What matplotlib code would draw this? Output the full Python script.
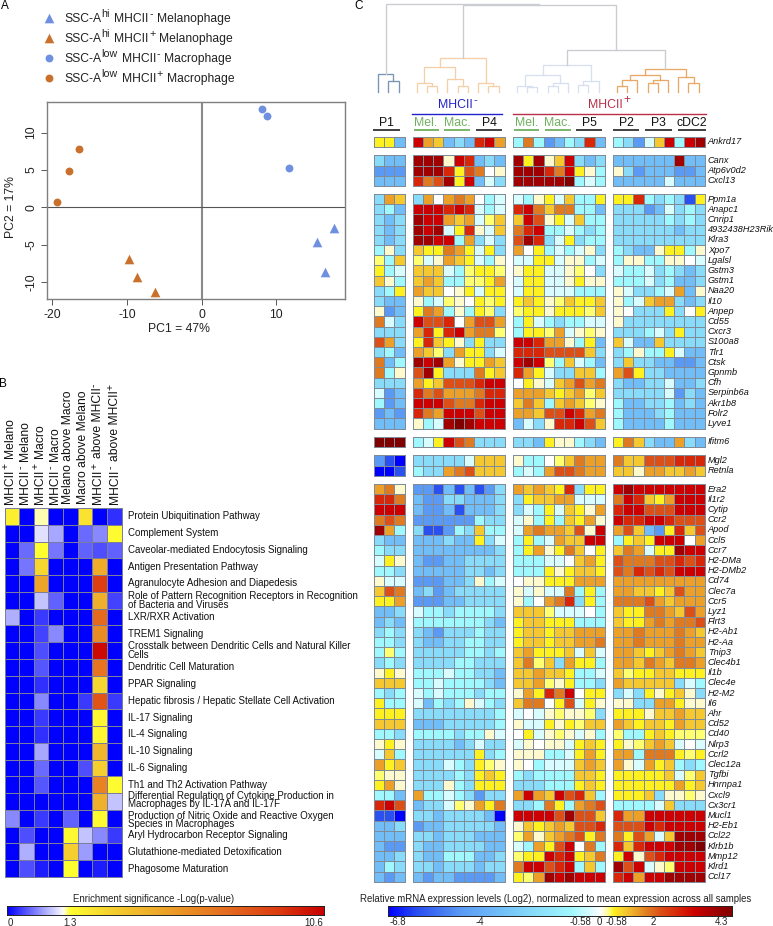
import numpy as np
import matplotlib
matplotlib.use("Agg")
import matplotlib.pyplot as plt
from matplotlib.colors import LinearSegmentedColormap

plt.rcParams['font.family'] = ['Liberation Sans', 'DejaVu Sans']
plt.rcParams['axes.unicode_minus'] = False

W, H = 773, 926

# ---------- Panel A data ----------
PC_LABELS = [[('SSC-A', 0), ('hi', 1), (' MHCII', 0), ('-', 1), (' Melanophage', 0)],
             [('SSC-A', 0), ('hi', 1), (' MHCII', 0), ('+', 1), (' Melanophage', 0)],
             [('SSC-A', 0), ('low', 1), (' MHCII', 0), ('-', 1), (' Macrophage', 0)],
             [('SSC-A', 0), ('low', 1), (' MHCII', 0), ('+', 1), (' Macrophage', 0)]]
MEL_NEG_PC1 = [17.7, 15.4, 16.5]
MEL_NEG_PC2 = [-2.8, -4.6, -8.7]
MEL_POS_PC1 = [-9.7, -8.6, -6.3]
MEL_POS_PC2 = [-7.0, -9.3, -11.3]
MAC_NEG_PC1 = [8.1, 8.7, 11.7]
MAC_NEG_PC2 = [13.1, 12.2, 5.2]
MAC_POS_PC1 = [-19.3, -17.8, -16.4]
MAC_POS_PC2 = [0.7, 4.9, 7.8]

# ---------- Panel B data ----------
B_COLUMNS = [[('MHCII', 0), ('+', 1), (' Melano', 0)], [('MHCII', 0), ('-', 1), (' Melano', 0)],
             [('MHCII', 0), ('+', 1), (' Macro', 0)], [('MHCII', 0), ('-', 1), (' Macro', 0)],
             [('Melano above Macro', 0)], [('Macro above Melano', 0)],
             [('MHCII', 0), ('+', 1), (' above MHCII', 0), ('-', 1)],
             [('MHCII', 0), ('-', 1), (' above MHCII', 0), ('+', 1)]]
B_PATHWAYS = ['Protein Ubiquitination Pathway', 'Complement System',
              'Caveolar-mediated Endocytosis Signaling', 'Antigen Presentation Pathway',
              'Agranulocyte Adhesion and Diapedesis',
              'Role of Pattern Recognition Receptors in Recognition\nof Bacteria and Viruses',
              'LXR/RXR Activation', 'TREM1 Signaling',
              'Crosstalk between Dendritic Cells and Natural Killer\nCells',
              'Dendritic Cell Maturation', 'PPAR Signaling',
              'Hepatic fibrosis / Hepatic Stellate Cell Activation',
              'IL-17 Signaling', 'IL-4 Signaling', 'IL-10 Signaling', 'IL-6 Signaling',
              'Th1 and Th2 Activation Pathway',
              'Differential Regulation of Cytokine Production in\nMacrophages by IL-17A and IL-17F',
              'Production of Nitric Oxide and Reactive Oxygen\nSpecies in Macrophages',
              'Aryl Hydrocarbon Receptor Signaling', 'Glutathione-mediated Detoxification',
              'Phagosome Maturation']
B_VALUES = [
    [2.0, 0, 1.35, 0, 0, 2.4, 0, 0.25],
    [0, 0, 1.15, 0.85, 0, 0.55, 0.7, 1.6],
    [0, 0.55, 1.5, 0.6, 0, 0.5, 0.4, 0.5],
    [0, 0.6, 2.8, 0, 0, 0, 4.5, 0],
    [0, 0, 4.8, 0, 0, 0, 8.8, 0],
    [0, 0, 1.0, 0.5, 0, 0, 4.3, 0.35],
    [0.9, 0, 0.3, 0, 0, 0, 7.2, 0],
    [0, 0, 0.35, 0.7, 0, 0, 5.8, 0],
    [0, 0, 0.4, 0, 0, 0, 10.3, 0],
    [0, 0, 0.45, 0, 0, 0, 6.8, 0],
    [0, 0, 0.25, 0, 0, 0, 2.8, 0],
    [0, 0, 0.7, 0, 0, 0.3, 8.0, 0.3],
    [0, 0, 0.3, 0, 0, 0, 1.8, 0],
    [0, 0, 0.25, 0, 0, 0, 1.8, 0],
    [0, 0, 0.85, 0, 0, 0, 4.0, 0],
    [0, 0, 0.55, 0, 0, 0.4, 3.0, 0],
    [0, 0, 0.45, 0, 0, 0, 6.2, 1.6],
    [0, 0, 0, 0, 0, 0, 4.3, 1.0],
    [0.7, 0, 0.3, 0, 0.5, 0, 1.6, 0],
    [0, 0.4, 0, 0, 1.7, 1.0, 0.7, 0.3],
    [0, 0.9, 0, 0, 3.0, 0.8, 0, 0],
    [0, 0.4, 0.15, 0, 1.5, 0, 0.15, 0],
]

# ---------- Panel C data: each letter is one expression level (see EXPR_LEVELS) ----------
EXPR_LEVELS = {'A': -6.8, 'B': -5.9, 'C': -4.6, 'D': -3.4, 'E': -2.2, 'F': -0.9, 'G': -0.3, 'W': 0.0,
               'H': 0.2, 'I': 0.4, 'J': 0.58, 'K': 1.0, 'L': 1.4, 'M': 1.8, 'N': 2.2, 'O': 2.7,
               'P': 3.2, 'Q': 3.8, 'R': 4.3}

GENES_1 = ['Ankrd17']
ROWS_1 = ["JJD PLKDEDOPL FMFCDFEOD FECGKPFPQ"]

GENES_2 = ['Canx', 'Atp6v0d2', 'Cxcl13']
ROWS_2 = ["EDD QQQHPODED QJQHKPEDE DDDDDDQDD",
          "CCC QQQOJNMWH QQQOMPJHF HECDDDCCD",
          "DDD OMNQJPDGE QQQQQRFGF DDDDDGDDD"]

GENES_3 = ['Ppm1a', 'Anapc1', 'Cnrip1', '4932438H23Rik', 'Klra3', 'Xpo7', 'Lgalsl', 'Gstm3', 'Gstm1',
           'Naa20', 'Il10', 'Anpep', 'Cd55', 'Cxcr3', 'S100a8', 'Tlr1', 'Ctsk', 'Gpnmb', 'Cfh',
           'Serpinb6a', 'Akr1b8', 'Folr2', 'Lyve1']
ROWS_3 = ["ELK ELWLMLWFG GFHJGKFFJ JJOFEFEBJ",
          "EFD PPPOPOGFG OPMKMMFFD EEECDGEFE",
          "EDE QPPLKLGIK KPNHJGKFF EEEEEFEFE",
          "EDE QPQGJOHGK MOPFFGFEF EEEEEEDEE",
          "EDE QQPPFLEGE NQOEGJEFF EEEEEEEEE",
          "FHE KJJMLJGJE LWJFGFGHE FEDDHJJFH",
          "IFK IGHLKJGFH GGJJGHHFG FHHFFHHWG",
          "JFG KKKGFIJJI HJJGGHIWE GFFGEFEDE",
          "KHF KLKFFIIJL GJJGGHJHH FFFGEFDDE",
          "EFJ LKKWHJGJJ GJJGGGFFF HGEEFGLDH",
          "EDD HFGIHWJIJ JKJHIKJJK HFGKLLEDE",
          "HCD JMLFHFJIE IJJHJJJIK HWEEEJEWJ",
          "MGE PNNOWLNNL FJGFEFFGG HEEEEEEEE",
          "EEE LOJOPLMMI FJJILGHIH EEEFGEJEE",
          "NLE JOKJHEJEE PPOLLHFJD KGDDKEEEE",
          "EFD LKIELJJEG OOONNNNKE EFHFFJGDD",
          "MDF QPQLHJJLK PQPIFKGFD EKEEDDCCD",
          "MFH NQJEEEMJK OLJGEEKKF LNJEEDDDD",
          "EEE LJKNNNOPP WJHGKLNLM EDDEEGDDE",
          "GCD OMNLLLMOO LLLKJKLIK EEEEEGCED",
          "FCD PPPNMMOPP KMKFKLKIH FDDEEFDED",
          "CDC OMLPPPNPP LLKNNPOLM FDDDEFDDD",
          "DDD HFGQRQPPP DGEHOOPNK FDDDDFDDD"]

GENES_4 = ['Ifitm6']
ROWS_4 = ["RRR FGJPNMEEE EEDJHHFED JMKEDDLED"]

GENES_5 = ['Mgl2', 'Retnla']
ROWS_5 = ["CBA EEEEEGKKK HFFWIKMLL MKKNNNOOO",
          "AAB FEELMNKKK FGFLNNMLL KKHLLKKLK"]

GENES_6 = ['Era2', 'Il1r2', 'Cytip', 'Ccr2', 'Apod', 'Ccl5', 'Ccr7', 'H2-DMa', 'H2-DMb2', 'Cd74',
           'Clec7a', 'Ccr5', 'Lyz1', 'Flrt3', 'H2-Ab1', 'H2-Aa', 'Tnip3', 'Clec4b1', 'Il1b', 'Clec4e',
           'H2-M2', 'Il6', 'Ahr', 'Cd52', 'Cd40', 'Nlrp3', 'Ccrl2', 'Clec12a', 'Tgfbi', 'Hnrnpa1',
           'Cxcl9', 'Cx3cr1', 'Mucl1', 'H2-Eb1', 'Ccl22', 'Klrb1b', 'Mmp12', 'Klrd1', 'Ccl17']
ROWS_6 = ["LMH CCBDBDBCE LKLKJOEJJ PQPPPPPPP",
          "OOM DCCEEDDDE EJKKLLGGG MPOKJLPPP",
          "PPP DCCDBDDDE EGFJGKJHL OPPNNNPPP",
          "MNM CCCCCCFEE GHFJFKJLH POOPPONNN",
          "QLF EBBCFEKFF GLMLLKNHP LNKDCJOKN",
          "EDD DDDEDDJEG FJFGLKKPP FJKJPPPWL",
          "FEE DDDDDDDDE FJLHJMKWJ KMLGJJQPP",
          "GJH DCCDDEEEE FFFGGWKLJ NMMMNNONO",
          "FFE DDDDDEEDE FFFJHJKKJ NMONONPPP",
          "HGG CCCDDEHFG WHHJJJLLL LLLLLLLLL",
          "KNM DECDEEEEE HGHGGMFJF LLKKJKNLL",
          "JJL CCCDDEEEE HFWLMOEJF MMMNLKLLL",
          "DDE GFFEFFFFE KKKIGGGWF KJJMMLKNL",
          "DED FFFFFFFED JKKJJJFFF KJJLMLMMN",
          "EFE EDCEEEFEE JKKJKKLLL LLMLLLMLK",
          "FFE EDDEEFFEE JKKJKKLLM LLMLLLMLL",
          "FIF EEEEEFFEF KLJJJKGKG LLKJKLMLK",
          "EFE EEEEFFEEE KMIKELJJF LLKMLKMML",
          "HJH FFFGFFEED KKLKKJFFG KIJJKKJJJ",
          "KKK FFGFFFFED KKLIHJFFE LKKKKKEGF",
          "FEF GFGFFFEFF HLJOMPWJJ EGEJHJKHE",
          "JFF GDFEFHGFE KMMWJNGJH HHEELLJHH",
          "JJJ EEEEEEEEF GWGHIHHIE JJJHKKLKK",
          "KKK DDDEEEEEF HGGJHJIKK LKJKKJLKK",
          "FFE FFFFEFFHG WJGHIHGHF IFFJKJIII",
          "HJH EEEEDEGEE GHWHHGJKJ JHIKLKGWG",
          "GKF EEEEEEJEF HHHFFGJLJ LLFMMMJIJ",
          "LJK EEEGFEJIH HWFGGGKLK LHGLJKFEF",
          "IHH EEEEFEJKJ FEFFFFKKJ JJJJJKGIK",
          "JLH EEEHFEJJJ EEEFFFJKJ JJJJJJLJK",
          "FFD LFFGFECEE LPLKPNOKF JJJKEHHIH",
          "OPN DEEGIHLJM EEFMJFLMN FFFFGKEEE",
          "BBA EEDEEEEDA PPPPNQNNK OLLPPPPPP",
          "DDE CDDEEEEED HKJKLKNNO NNNPOPPPP",
          "DDD EEDEEEDDD ILHKLMNJM MJNLGKQQQ",
          "DCC EDDEEEEDD GFLJNPWMF OKOPPPQQR",
          "DDE EDDFFFDDE IJJPOPJKM JPHNOPPPP",
          "DFE EEDEEEDEE MPPNOPFKF QNPGHIPPP",
          "DCD DCDDCCCCD JILQPQPPP OPLPPQQQQ"]

# Dendrograms: (height, left, right); integers are leaves (column indices inside the group)
TREE_P1 = (17.7, 0, (11.0, 1, 2))
TREE_G2 = (33.7, (24.7, (9.0, 0, (6.0, 1, 2)), (12.3, 3, (6.0, 4, 5))), (9.0, 6, (6.0, 7, 8)))
TREE_G3 = (26.3, (16.3, (6.0, 0, (5.0, 1, 2)), (8.3, (5.7, 3, 4), 5)), (11.0, (7.0, 6, 7), 8))
TREE_G4 = (22.3, (17.0, (11.3, (6.0, 0, 1), 2), (11.7, (8.3, 3, 4), 5)), (15.0, 6, (8.7, 7, 8)))
TREE_HEIGHT_UPPER = 41.7   # node joining groups 3 and 4
TREE_HEIGHT_MID = 86.3     # node joining group 2 with the rest
TREE_HEIGHT_ROOT = 87.7


def px_axes(fig, x0, y0, x1, y1, **kw):
    return fig.add_axes([x0 / W, 1 - y1 / H, (x1 - x0) / W, (y1 - y0) / H], **kw)


fig = plt.figure(figsize=(W / 100, H / 100), dpi=100)
ov = px_axes(fig, 0, 0, W, H)
ov.set_xlim(0, W)
ov.set_ylim(H, 0)
ov.axis('off')
ov.set_zorder(5)
ov.patch.set_alpha(0)
renderer = fig.canvas.get_renderer()


def rich(x, y, pieces, size, sup_size, raise_px, color='#222222', vertical=False):
    """Lay out base text and superscript pieces one after another from (x, y)."""
    pos = 0.0
    for s, is_sup in pieces:
        lead = len(s) - len(s.lstrip(' '))
        fs = sup_size if is_sup else size
        pos += lead * 0.278 * fs * 100 / 72
        body = s.strip(' ')
        off = raise_px if is_sup else 0
        if vertical:
            t = ov.text(x - off, y - pos, body, fontsize=fs, color=color, rotation=90,
                        ha='center', va='bottom', rotation_mode='default')
            ext = t.get_window_extent(renderer).height
        else:
            t = ov.text(x + pos, y - off, body, fontsize=fs, color=color, ha='left', va='baseline')
            ext = t.get_window_extent(renderer).width
        pos += ext + 0.6


BLUE = '#6f8fe0'
ORANGE = '#c8702c'

# ---------- Panel letters ----------
ov.text(5, 6, 'A', fontsize=8.5, ha='center', va='center')
ov.text(3, 384, 'B', fontsize=8.5, ha='center', va='center')
ov.text(359, 6, 'C', fontsize=8.5, ha='center', va='center')

# ---------- Panel A ----------
ax = px_axes(fig, 47, 101.7, 345, 299)
ax.set_xlim(-20.7, 19.2)
ax.set_ylim(-12.3, 14.14)
ax.axvline(0, color='#8a8a8a', lw=1.5, zorder=1)
ax.axhline(0, color='#555555', lw=0.8, zorder=1)
ax.scatter(MEL_NEG_PC1, MEL_NEG_PC2, marker='^', s=48, color=BLUE, lw=0, zorder=3)
ax.scatter(MEL_POS_PC1, MEL_POS_PC2, marker='^', s=48, color=ORANGE, lw=0, zorder=3)
ax.scatter(MAC_NEG_PC1, MAC_NEG_PC2, marker='o', s=32, color=BLUE, lw=0, zorder=3)
ax.scatter(MAC_POS_PC1, MAC_POS_PC2, marker='o', s=32, color=ORANGE, lw=0, zorder=3)
ax.set_xticks([-20, -10, 0, 10])
ax.set_yticks([-10, -5, 0, 5, 10])
ax.tick_params(axis='both', labelsize=8.8, length=4, width=0.7, color='#555555', labelcolor='#222222', pad=3)
for lab in ax.get_yticklabels():
    lab.set_rotation(90)
    lab.set_va('center')
for s in ax.spines.values():
    s.set_color('#7f7f7f')
    s.set_linewidth(1.0)
ov.text(179, 329, 'PC1 = 47%', fontsize=8.8, ha='center', va='center', color='#222222')
ov.text(11, 207, 'PC2 = 17%', fontsize=8.8, ha='center', va='center', rotation=90, color='#222222')

for i, (lab, mk, col) in enumerate(zip(PC_LABELS, ['^', '^', 'o', 'o'], [BLUE, ORANGE, BLUE, ORANGE])):
    y = 18.3 + 20 * i
    ov.scatter([49], [y], marker=mk, s=48 if mk == '^' else 32, color=col, lw=0)
    rich(64, y + 3.6, lab, 8.7, 7.7, 5.0)

# ---------- Panel B ----------
B_ANCH_V = [0, 1.25, 1.3, 1.5, 3, 5, 7, 9, 10.6]
B_ANCH_C = ['#0000ff', '#f6f6ff', '#ffffd8', '#ffff30', '#f5cf30', '#eca028', '#e56f20', '#dc3a10', '#c80000']


def b_frac(v):
    return np.interp(v, [0, 1.3, 10.6], [0, 0.18, 1])


cmap_b = LinearSegmentedColormap.from_list('b', [(float(b_frac(v)), c) for v, c in zip(B_ANCH_V, B_ANCH_C)], N=512)

bx0, bx1, by0, by1 = 4.5, 121.7, 508, 877
ax = px_axes(fig, bx0, by0, bx1, by1)
ax.pcolormesh(b_frac(np.array(B_VALUES)), cmap=cmap_b, vmin=0, vmax=1,
              edgecolors='#7c7c9c', linewidth=0.7).set_clip_on(False)
ax.invert_yaxis()
ax.axis('off')
nrow = len(B_PATHWAYS)
rh = (by1 - by0) / nrow
B_LABEL_X = [10, 25, 40, 55, 68.3, 83.3, 98.3, 115]
for x, lab in zip(B_LABEL_X, B_COLUMNS):
    rich(x, 503.5, lab, 8.7, 7.6, 4.2, color='#111111', vertical=True)
B_LABEL_NUDGE = {17: -1.6, 18: 1.6}
for j, lab in enumerate(B_PATHWAYS):
    ov.text(128, by0 + rh * (j + 0.5) + B_LABEL_NUDGE.get(j, 0), lab, ha='left', va='center',
            fontsize=7.05, linespacing=0.82, color='#111111')

ax = px_axes(fig, 7.3, 906, 324, 915)
ax.imshow(np.linspace(0, 1, 512)[None, :], aspect='auto', cmap=cmap_b, vmin=0, vmax=1)
ax.set_xticks([])
ax.set_yticks([])
for s in ax.spines.values():
    s.set_linewidth(0.7)
    s.set_color('#222222')
ov.text(154, 898.7, 'Enrichment significance -Log(p-value)', fontsize=6.9, ha='center', va='center', color='#222222')
for x, t in [(10, '0'), (70, '1.3'), (313.7, '10.6')]:
    ov.text(x, 922.6, t, fontsize=6.9, ha='center', va='center', color='#222222')

# ---------- Panel C ----------
EXPR_COLORS = {'A': '#0000ff', 'B': '#2a50f0', 'C': '#5a9af5', 'D': '#70bdf8', 'E': '#88dcfa', 'F': '#a0f8ff',
               'G': '#d8fcff', 'W': '#ffffff', 'H': '#fffad0', 'I': '#ffff70', 'J': '#fff020', 'K': '#f5c830',
               'L': '#eca028', 'M': '#e07a20', 'N': '#dc5018', 'O': '#d82808', 'P': '#cc0000', 'Q': '#a00000',
               'R': '#800000'}


def c_frac(v):
    return np.interp(v, [-6.8, -4, -0.58, 0, 0.58, 2, 4.3], [0, 0.268, 0.56, 0.614, 0.655, 0.77, 1])


cmap_c = LinearSegmentedColormap.from_list(
    'c', [(float(c_frac(EXPR_LEVELS[k])), EXPR_COLORS[k]) for k in EXPR_LEVELS], N=1024)

GROUP_X = [(373.7, 404.7), (412.7, 504.7), (513, 604.7), (613, 704.7)]
BLOCKS = [(136.7, 147, GENES_1, ROWS_1), (155.3, 186, GENES_2, ROWS_2), (194, 428.7, GENES_3, ROWS_3),
          (436.7, 447, GENES_4, ROWS_4), (455.3, 476, GENES_5, ROWS_5), (484, 881.7, GENES_6, ROWS_6)]

for y0, y1, genes, rows in BLOCKS:
    parts = [r.split() for r in rows]
    for g, (x0, x1) in enumerate(GROUP_X):
        vals = np.array([[EXPR_LEVELS[ch] for ch in p[g]] for p in parts], dtype=float)
        ax = px_axes(fig, x0, y0, x1, y1)
        ax.pcolormesh(c_frac(vals), cmap=cmap_c, vmin=0, vmax=1,
                      edgecolors='#7f8c98', linewidth=0.65).set_clip_on(False)
        ax.invert_yaxis()
        ax.axis('off')
    h = (y1 - y0) / len(genes)
    for j, gene in enumerate(genes):
        ov.text(707.7, y0 + h * (j + 0.5), gene, style='italic', fontsize=6.6, ha='left', va='center', color='#111111')

# Dendrogram
dax = px_axes(fig, 365, 0, W, 91.7)
dax.set_xlim(365, W)
dax.set_ylim(0, 91.7)
dax.axis('off')


def draw_tree(node, x0, cw, color):
    if isinstance(node, int):
        return x0 + cw * (node + 0.5) - 1, 0.0
    height, left, right = node
    xl, hl = draw_tree(left, x0, cw, color)
    xr, hr = draw_tree(right, x0, cw, color)
    dax.plot([xl, xl, xr, xr], [hl, height, height, hr], color=color, lw=0.95, solid_joinstyle='miter', clip_on=False)
    return (xl + xr) / 2, height


def gx(i):
    return GROUP_X[i][0], (GROUP_X[i][1] - GROUP_X[i][0]) / (3 if i == 0 else 9)


p1 = draw_tree(TREE_P1, *gx(0), '#7795b5')
g2 = draw_tree(TREE_G2, *gx(1), '#f5cfa8')
g3 = draw_tree(TREE_G3, *gx(2), '#d6e0f0')
g4 = draw_tree(TREE_G4, *gx(3), '#e8a868')
TOP = '#c9cdd2'


def join(a, b, height):
    dax.plot([a[0], a[0], b[0], b[0]], [a[1], height, height, b[1]], color=TOP, lw=0.95, clip_on=False)
    return (a[0] + b[0]) / 2, height


n34 = join(g3, g4, TREE_HEIGHT_UPPER)
n234 = join(g2, n34, TREE_HEIGHT_MID)
join(p1, n234, TREE_HEIGHT_ROOT)

# Group annotations
rich(437.7, 108.2, [('MHCII', 0), ('-', 1)], 8.8, 8.0, 5.0, color='#2222cc')
ov.plot([412, 501.7], [113.7, 113.7], color='#2222cc', lw=1.0)
rich(588.3, 108.2, [('MHCII', 0), ('+', 1)], 8.8, 8.6, 5.0, color='#b83048')
ov.plot([513, 705.7], [113.7, 113.7], color='#b83048', lw=1.0)

SUB_LABELS = ['P1', 'Mel.', 'Mac.', 'P4', 'Mel.', 'Mac.', 'P5', 'P2', 'P3', 'cDC2']
SUB_CENTERS = [65, 183, 277, 372, 484, 578, 672, 783, 880, 980]
SUB_SPANS = [(25, 106), (146, 222), (238, 316), (332, 412), (446, 522), (541, 617), (632, 712), (743, 823),
             (841, 921), (940, 1022)]
for lab, c, (a, b) in zip(SUB_LABELS, SUB_CENTERS, SUB_SPANS):
    col = '#70b060' if lab in ('Mel.', 'Mac.') else '#111111'
    ov.text(365 + c / 3, 123.3, lab, fontsize=8.8, color=col, ha='center', va='center')
    ov.plot([365 + a / 3, 365 + b / 3], [130, 130], color=col if col != '#111111' else '#333333', lw=1.3,
            solid_capstyle='butt')

# Expression colour bar
ax = px_axes(fig, 387.7, 906, 732, 916)
ax.imshow(np.linspace(0, 1, 1024)[None, :], aspect='auto', cmap=cmap_c, vmin=0, vmax=1)
ax.set_xticks([])
ax.set_yticks([])
for s in ax.spines.values():
    s.set_linewidth(0.7)
    s.set_color('#222222')
ov.text(556, 899, 'Relative mRNA expression levels (Log2), normalized to mean expression across all samples',
        fontsize=6.95, ha='center', va='center', color='#222222')
for x, t in [(397.7, '-6.8'), (480, '-4'), (580, '-0.58'), (599, '0'), (616.7, '-0.58'), (653.7, '2'), (721, '4.3')]:
    ov.text(x, 922.4, t, fontsize=6.9, ha='center', va='center', color='#222222')

fig.savefig('out.png', dpi=100)
